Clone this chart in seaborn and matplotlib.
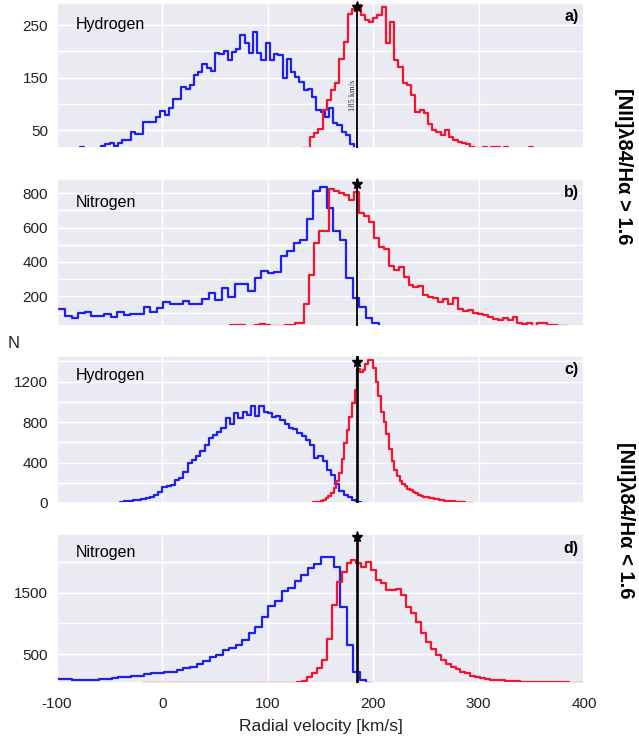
import numpy as np
import pandas as pd
import seaborn as sns
import matplotlib.pyplot as plt

# ---------------------------------------------------------------------------
# Histogram counts per bin (bin start, bin width, counts)
# ---------------------------------------------------------------------------
# a) Hydrogen, [NII]/Ha > 1.6
a_blue_start, a_blue_width = -78, 4
a_blue = [18, 8, 8, 8, 8, 20, 23, 26, 20, 26, 32, 32, 47, 42, 42, 66, 66, 66, 75, 87,
          79, 93, 110, 110, 133, 128, 136, 155, 160, 175, 169, 163, 196, 195, 200, 183,
          199, 204, 231, 215, 197, 236, 196, 183, 215, 183, 195, 193, 150, 185, 161, 152,
          142, 126, 129, 113, 88, 85, 75, 93, 64, 60, 47, 41, 23, 15, 0]
a_red_start, a_red_width = 132, 4
a_red = [16, 16, 37, 44, 53, 88, 107, 127, 139, 185, 218, 272, 280, 288, 269, 260, 256,
         263, 269, 284, 216, 256, 183, 171, 139, 136, 117, 85, 88, 82, 61, 50, 47, 41,
         50, 37, 31, 28, 25, 24, 18, 16, 15, 17, 15, 17, 18, 15, 17, 10, 10, 10, 10, 10,
         17, 10, 0]

# b) Nitrogen, [NII]/Ha > 1.6
b_blue_start, b_blue_width = -98.5, 6.2
b_blue = [124, 83, 69, 103, 108, 83, 83, 93, 79, 104, 89, 93, 93, 134, 104, 132, 167,
          151, 151, 169, 151, 153, 180, 219, 177, 245, 196, 268, 268, 231, 303, 348, 332,
          342, 434, 465, 508, 527, 648, 816, 839, 712, 582, 527, 303, 186, 138, 69, 40, 0]
b_red_start, b_red_width = 54.9, 4.7
b_red = [10, 10, 30, 32, 29, 22, 26, 31, 34, 30, 27, 24, 26, 28, 30, 40, 45, 153, 323,
         508, 582, 582, 823, 815, 805, 790, 760, 808, 687, 668, 634, 537, 484, 473, 375,
         352, 368, 309, 264, 255, 258, 206, 196, 190, 167, 181, 153, 190, 122, 114, 118,
         103, 95, 89, 79, 64, 60, 70, 60, 79, 44, 36, 44, 27, 40, 40, 30, 30, 25, 25]

# c) Hydrogen, [NII]/Ha < 1.6
c_blue_start, c_blue_width = -40, 4
c_blue = [10, 15, 23, 28, 33, 42, 49, 60, 80, 110, 158, 170, 181, 224, 247, 302, 394,
          427, 460, 510, 575, 641, 674, 707, 740, 838, 782, 888, 838, 904, 871, 960, 861,
          960, 904, 888, 848, 861, 822, 782, 740, 730, 690, 664, 625, 575, 444, 460, 411,
          329, 279, 191, 115, 82, 59, 33, 7, 0]
c_red_start, c_red_width = 142.5, 2.5
c_red = [5, 8, 12, 22, 30, 49, 70, 99, 148, 214, 300, 440, 590, 720, 855, 990, 1120,
         1330, 1300, 1315, 1375, 1410, 1413, 1340, 1200, 1060, 900, 800, 680, 530, 420,
         330, 265, 215, 185, 165, 140, 125, 105, 95, 80, 74, 62, 56, 52, 45, 39, 35, 30,
         26, 23, 19, 16, 15, 12, 9, 7, 5, 4, 3, 0]

# d) Nitrogen, [NII]/Ha < 1.6
d_blue_start, d_blue_width = -104, 6.2
d_blue = [100, 100, 98, 84, 84, 84, 86, 100, 104, 122, 125, 138, 140, 154, 181, 192, 203,
          205, 219, 246, 273, 300, 343, 395, 462, 489, 570, 608, 651, 732, 840, 949, 1100,
          1284, 1370, 1532, 1570, 1690, 1786, 1905, 1960, 2073, 2073, 1915, 1260, 650, 220,
          80, 40, 0]
d_red_start, d_red_width = -18, 4.7
d_red = [30, 32, 35, 33, 31, 34, 36, 33, 35, 37, 34, 36, 35, 33, 36, 38, 35, 37, 36, 34,
         37, 39, 36, 35, 38, 37, 36, 38, 37, 38, 42, 50, 65, 130, 190, 273, 408, 743, 1300,
         1678, 1840, 1986, 2030, 1976, 1922, 2003, 1868, 1705, 1651, 1543, 1543, 1554,
         1462, 1273, 1165, 1030, 841, 705, 581, 489, 408, 343, 300, 257, 219, 192, 154,
         138, 111, 100, 90, 80, 75, 68, 65, 60, 57, 55, 52, 50, 49, 47, 46, 45, 44, 43, 42,
         41, 40]

element_names = ["Hydrogen", "Nitrogen", "Hydrogen", "Nitrogen"]
panel_tags = ["a)", "b)", "c)", "d)"]
systemic_velocity = 185
x_ticks = [-100, 0, 100, 200, 300, 400]
y_ticks = [[50, 100, 150, 200, 250],
           [100, 200, 300, 400, 500, 600, 700, 800],
           [0, 200, 400, 600, 800, 1000, 1200, 1400],
           [500, 1000, 1500, 2000]]
y_labels = [["50", "", "150", "", "250"],
            ["", "200", "", "400", "", "600", "", "800"],
            ["0", "", "400", "", "800", "", "1200", ""],
            ["500", "", "1500", ""]]
y_limits = [(16, 292), (25, 884), (0, 1454), (34, 2453)]

BLUE = "#1e1ef5"
RED = "#f5142d"

sns.set_theme(style="darkgrid")
plt.rcParams["font.family"] = ["Liberation Sans", "DejaVu Sans"]

fig = plt.figure(figsize=(6.39, 7.39), dpi=100)
fig.patch.set_facecolor("white")

W, H = 639.0, 739.0
left_px, right_px = 57, 584
panel_rows = [(3, 148), (179, 326), (356, 503), (534, 683)]

hist_sets = [
    (a_blue_start, a_blue_width, a_blue, a_red_start, a_red_width, a_red),
    (b_blue_start, b_blue_width, b_blue, b_red_start, b_red_width, b_red),
    (c_blue_start, c_blue_width, c_blue, c_red_start, c_red_width, c_red),
    (d_blue_start, d_blue_width, d_blue, d_red_start, d_red_width, d_red),
]
star_heights = [0.97, 0.966, 0.959, 0.98]
line_widths = [1.3, 1.3, 1.9, 1.9]


def draw_hist(ax, start, width, counts, color):
    counts = np.asarray(counts, dtype=float)
    edges = start + width * np.arange(len(counts) + 1)
    table = pd.DataFrame({"velocity": edges[:-1] + width / 2, "count": counts})
    sns.histplot(data=table, x="velocity", weights="count", bins=edges.tolist(),
                 element="step", fill=False, color=color, linewidth=1.6, ax=ax)


axes = []
for i, (top, bottom) in enumerate(panel_rows):
    ax = fig.add_axes([left_px / W, 1 - bottom / H, (right_px - left_px) / W,
                       (bottom - top) / H])
    axes.append(ax)
    bs, bw, bc, rs, rw, rc = hist_sets[i]
    draw_hist(ax, bs, bw, bc, BLUE)
    draw_hist(ax, rs, rw, rc, RED)

    ax.axvline(systemic_velocity, color="black", linewidth=line_widths[i], zorder=5)
    ax.plot([systemic_velocity], [star_heights[i]], marker="*", markersize=8,
            color="black", transform=ax.get_xaxis_transform(), zorder=6, clip_on=False)

    ax.set_xlim(-100, 400)
    ax.set_ylim(*y_limits[i])
    ax.set_xticks(x_ticks)
    ax.set_yticks(y_ticks[i])
    ax.set_yticklabels(y_labels[i])
    if i == 3:
        ax.set_xticklabels([str(t) for t in x_ticks])
    else:
        ax.set_xticklabels([""] * len(x_ticks))
    ax.tick_params(axis="both", length=0)
    ax.tick_params(axis="y", labelsize=11, pad=6.5, colors="#222222")
    ax.tick_params(axis="x", labelsize=11, pad=10, colors="#222222")
    ax.set_xlabel("")
    ax.set_ylabel("")
    ax.grid(True, color="white", linewidth=1.0)

    ax.text(0.036, [0.85, 0.843, 0.864, 0.879][i], element_names[i],
            transform=ax.transAxes, ha="left", va="center", fontsize=11.5,
            color="black")
    ax.text(0.99, 0.905, panel_tags[i], transform=ax.transAxes, ha="right",
            va="center", fontsize=11.5, fontweight="bold", color="black")

axes[0].text(180.4, 0.366, "185 km/s", transform=axes[0].get_xaxis_transform(),
             rotation=90, ha="center", va="center", fontsize=6,
             family="Liberation Serif", color="#333333")

fig.text(320.5 / W, 1 - 727 / H, "Radial velocity [km/s]", ha="center", va="center",
         fontsize=12.5, color="#222222")
fig.text(14 / W, 1 - 343 / H, "N", ha="center", va="center", fontsize=12,
         color="#222222")
fig.text(623 / W, 1 - 166 / H, "[NII]λ84/Hα > 1.6", rotation=270, ha="center",
         va="center", fontsize=14.5, fontweight="bold", color="black")
fig.text(626 / W, 1 - 520 / H, "[NII]λ84/Hα < 1.6", rotation=270, ha="center",
         va="center", fontsize=14.5, fontweight="bold", color="black")

fig.savefig("out.png", dpi=100, facecolor="white")
